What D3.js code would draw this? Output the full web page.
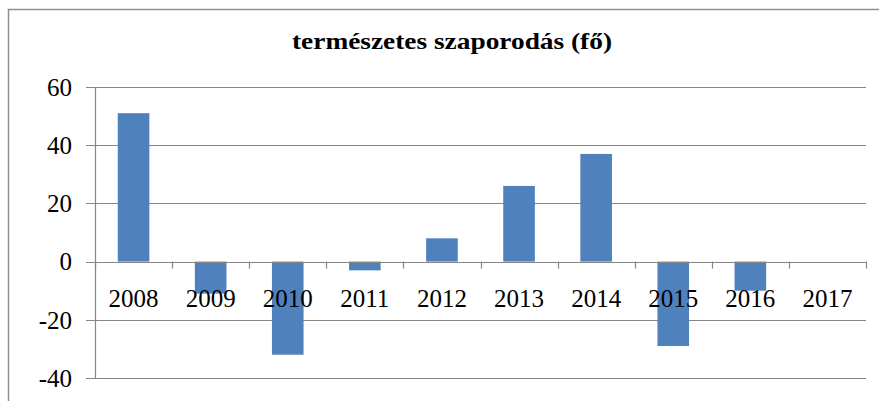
<!DOCTYPE html>
<html>
<head>
<meta charset="utf-8">
<script src="https://cdn.jsdelivr.net/npm/d3@7"></script>
<style>
	body { margin: 0; background: #fff; }
	text { font-family: "Liberation Serif", "Times New Roman", serif; }
</style>
</head>
<body>
<div id="chart"></div>
<script>

// data
const years = ["2008", "2009", "2010", "2011", "2012", "2013", "2014", "2015", "2016", "2017"];
const values = [51, -11, -32, -3, 8, 26, 37, -29, -10, 0];
const yTicks = [-40, -20, 0, 20, 40, 60];
const title = "természetes szaporodás (fő)";

var width = 879,
	height = 401,
	margin = { top: 87, left: 95, right: 13, bottom: 23 };

var svg = d3
	.select("#chart")
	.append("svg")
	.attr("width", width)
	.attr("height", height);

// outer chart border, runs off the right and bottom of the picture
svg.append("rect")
	.attr("x", 8.5)
	.attr("y", 9.5)
	.attr("width", 900)
	.attr("height", 420)
	.attr("fill", "none")
	.attr("stroke", "#8f8f8f")
	.attr("stroke-width", 1.5);

// title is a bit wider than plain Times, so stretch it to fit
svg.append("text")
	.text(title)
	.attr("x", 452)
	.attr("y", 49)
	.attr("text-anchor", "middle")
	.attr("font-size", "23px")
	.attr("font-weight", "bold")
	.attr("textLength", 320)
	.attr("lengthAdjust", "spacingAndGlyphs")
	.style("fill", "#000");

const x = d3.scaleBand()
	.domain(years)
	.range([margin.left, width - margin.right])
	.paddingInner(0.59)
	.paddingOuter(0.295);

const y = d3.scaleLinear()
	.domain([-40, 60])
	.range([height - margin.bottom, margin.top]);

const plotLeft = margin.left,
	plotRight = width - margin.right;

// gridlines (with tick stubs to the left of the axis)
svg.append("g")
	.selectAll("line")
	.data(yTicks)
	.join("line")
	.attr("x1", plotLeft - 9)
	.attr("x2", plotRight)
	.attr("y1", d => Math.round(y(d)) + 0.5)
	.attr("y2", d => Math.round(y(d)) + 0.5)
	.attr("stroke", "#868686")
	.attr("stroke-width", 1.2);

// y labels
svg.append("g")
	.selectAll("text")
	.data(yTicks)
	.join("text")
	.text(d => d)
	.attr("x", 72)
	.attr("y", d => y(d))
	.attr("dy", "0.35em")
	.attr("text-anchor", "end")
	.attr("font-size", "25px")
	.style("fill", "#000");

// y axis line
svg.append("line")
	.attr("x1", plotLeft + 0.5)
	.attr("x2", plotLeft + 0.5)
	.attr("y1", y(60))
	.attr("y2", y(-40))
	.attr("stroke", "#868686")
	.attr("stroke-width", 1.2);

// bars
svg.append("g")
	.selectAll("rect")
	.data(values)
	.join("rect")
	.attr("x", (d, i) => x(years[i]))
	.attr("width", x.bandwidth())
	.attr("y", d => y(Math.max(0, d)))
	.attr("height", d => Math.abs(y(d) - y(0)))
	.attr("fill", "#4f81bd");

// x axis at zero with tick marks between categories
const step = (plotRight - plotLeft) / years.length;
svg.append("line")
	.attr("x1", plotLeft)
	.attr("x2", plotRight)
	.attr("y1", Math.round(y(0)) + 0.5)
	.attr("y2", Math.round(y(0)) + 0.5)
	.attr("stroke", "#868686")
	.attr("stroke-width", 1.2);

svg.append("g")
	.selectAll("line")
	.data(d3.range(years.length + 1))
	.join("line")
	.attr("x1", i => Math.round(plotLeft + i * step) + 0.5)
	.attr("x2", i => Math.round(plotLeft + i * step) + 0.5)
	.attr("y1", y(0))
	.attr("y2", y(0) + 7)
	.attr("stroke", "#868686")
	.attr("stroke-width", 1.2);

// category labels sit on top of the bars
svg.append("g")
	.selectAll("text")
	.data(years)
	.join("text")
	.text(d => d)
	.attr("x", d => x(d) + x.bandwidth() / 2)
	.attr("y", 307)
	.attr("text-anchor", "middle")
	.attr("font-size", "25px")
	.style("fill", "#000");

</script>
</body>
</html>
